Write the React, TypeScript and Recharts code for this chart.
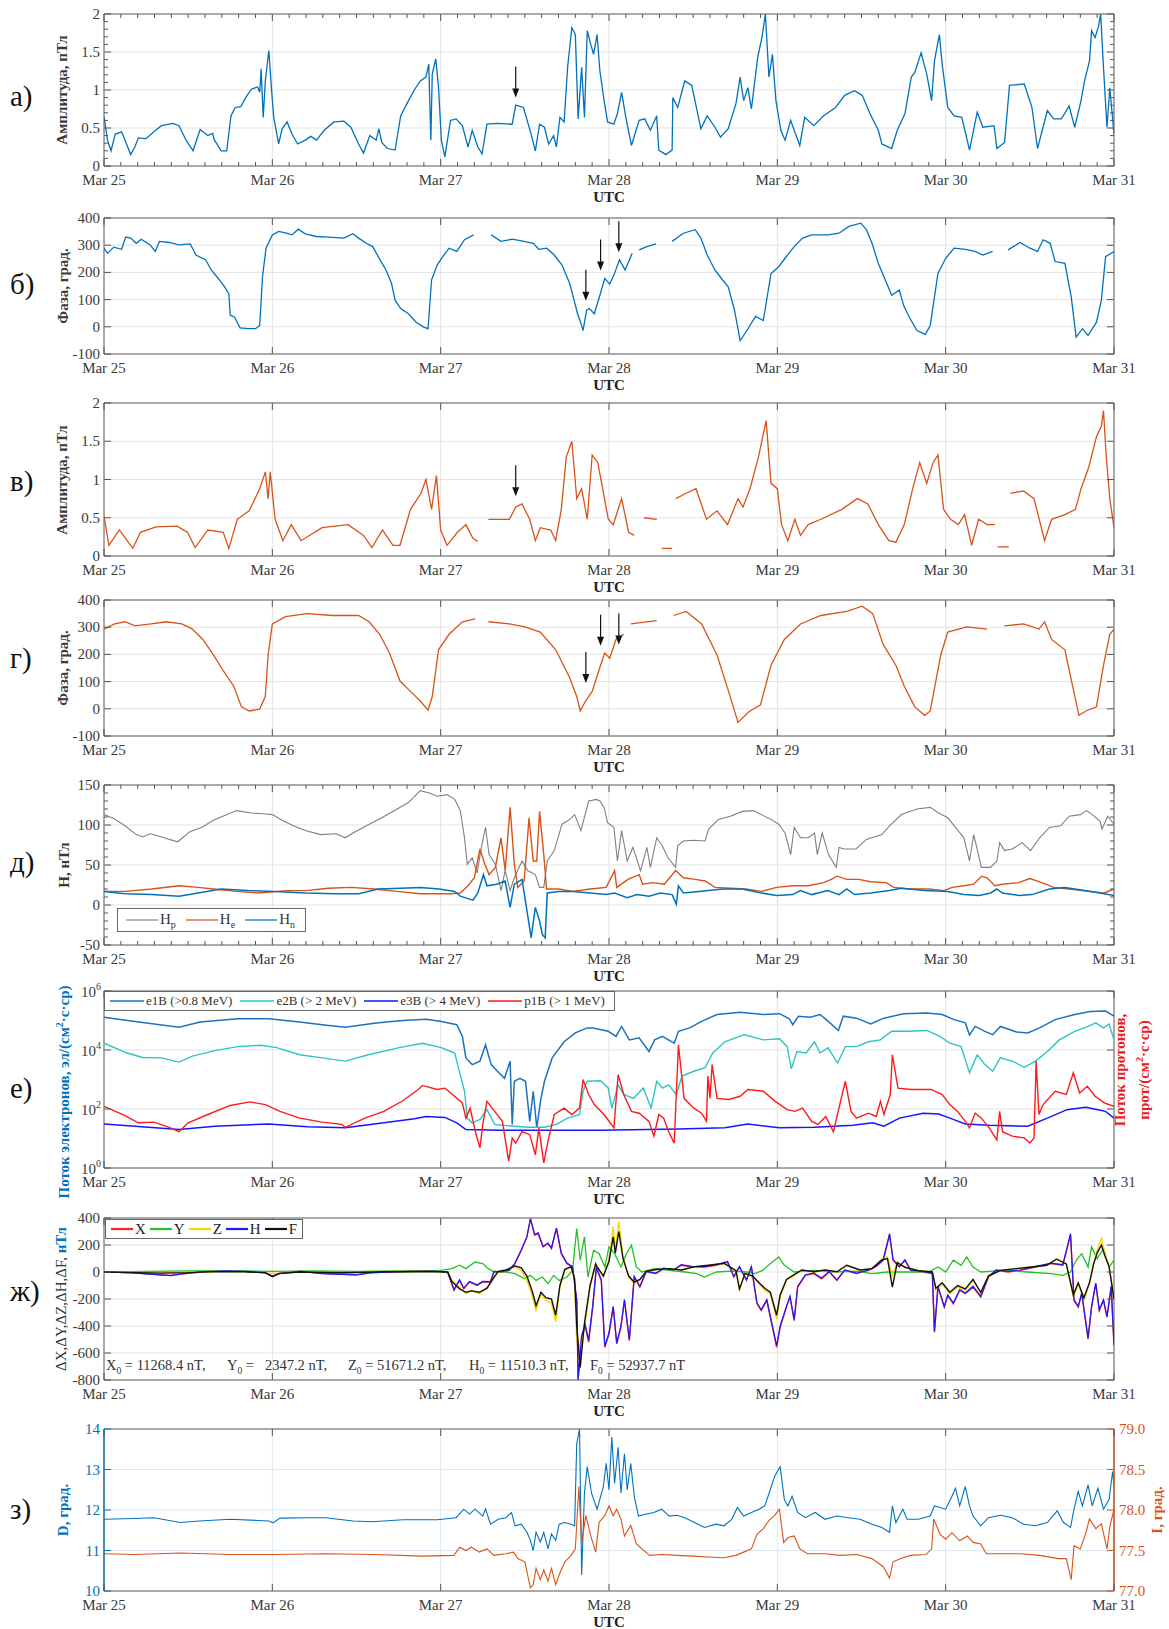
import React from "react";
import { LineChart, Line, XAxis, YAxis, ReferenceLine, ReferenceArea, ReferenceDot } from "recharts";

const FONT = '"Liberation Serif", "Times New Roman", serif';
const AX = "#555555";
const GRID = "#e3e3e3";
const TXT = "#3a3a3a";
const BLUE = "#0072BD";
const ORANGE = "#D95319";

const CHART_W = 1169;
const PLOT_L = 104;
const PLOT_W = 1010;
const Y_AXIS_W = 60;

// time axis, hours from Mar 25 00:00 UTC
const DAY_TICKS = [0, 24, 48, 72, 96, 120, 144];
const DAY_LABELS = ["Mar 25", "Mar 26", "Mar 27", "Mar 28", "Mar 29", "Mar 30", "Mar 31"];
const MINOR_X = Array.from({ length: 61 }, (_, k) => (k * 24) / 10);

type Pt = [number, number | null];

// а) amplitude, blue
const AMP_BLUE_PTS: Pt[] = [[0,0.65],[0.5,0.34],[1,0.2],[1.6,0.42],[2.5,0.45],[3,0.34],[3.8,0.15],[4.4,0.25],[4.9,0.37],[6,0.36],[7.1,0.45],[8.2,0.53],[9.8,0.56],[10.7,0.53],[11.7,0.34],[12.7,0.2],[13.7,0.48],[14.8,0.4],[15.5,0.43],[15.7,0.35],[16.7,0.2],[17.5,0.2],[18.1,0.66],[18.7,0.77],[19.5,0.78],[20.2,0.9],[21,1.01],[21.9,1.04],[22.2,0.97],[22.4,1.28],[22.7,0.64],[23,1.12],[23.5,1.52],[23.9,0.99],[24.2,0.64],[24.9,0.29],[25.4,0.49],[26.1,0.58],[26.8,0.42],[27.6,0.29],[28.7,0.34],[29.5,0.39],[30.3,0.34],[31.4,0.47],[32.8,0.58],[34.2,0.59],[35.2,0.51],[36.3,0.29],[37,0.17],[37.9,0.4],[38.8,0.34],[39.2,0.49],[39.6,0.31],[40.4,0.23],[41.5,0.21],[42.3,0.66],[43.3,0.84],[44.3,1.01],[45.1,1.12],[45.9,1.17],[46.3,1.34],[46.6,0.34],[46.8,1.21],[47.3,1.41],[47.7,1.03],[48.1,0.34],[48.6,0.12],[49.4,0.6],[50.2,0.62],[51.1,0.53],[51.9,0.25],[52.5,0.47],[53.3,0.25],[53.9,0.16],[54.6,0.55],[56,0.56],[58.2,0.55],[58.7,0.8],[59.8,0.77],[60.9,0.42],[61.5,0.2],[62.1,0.55],[62.8,0.51],[63.4,0.29],[64.1,0.4],[64.5,0.25],[65,0.64],[65.6,0.58],[66.1,1.3],[66.7,1.82],[67.2,1.73],[67.6,0.62],[68.1,1.3],[68.5,0.64],[68.9,1.78],[69.4,1.6],[69.8,1.47],[70.3,1.73],[70.7,1.25],[71.3,0.86],[71.8,0.58],[72.7,0.55],[73.2,0.69],[73.8,0.97],[74.4,0.64],[75.2,0.27],[76.3,0.6],[77.1,0.62],[77.9,0.47],[78.8,0.66],[79.1,0.21],[80.1,0.15],[81,0.21],[81.1,0.9],[81.8,0.77],[82.8,1.12],[83.8,1.06],[85.1,0.49],[86,0.66],[87.1,0.51],[87.9,0.38],[89,0.49],[90.1,0.82],[90.7,1.17],[91.2,0.86],[91.8,1.03],[92.3,0.75],[93.2,1.43],[93.8,1.69],[94.3,2.0],[94.8,1.17],[95.3,1.47],[95.8,0.86],[96.5,0.47],[97.1,0.34],[97.9,0.6],[98.4,0.47],[99.2,0.27],[99.9,0.64],[101.2,0.53],[102.6,0.66],[104.3,0.77],[105.6,0.93],[107,0.99],[108.1,0.93],[109.2,0.69],[110.4,0.47],[110.9,0.29],[112.3,0.23],[113.1,0.47],[114.2,0.69],[115.1,1.17],[115.6,1.23],[116.5,1.49],[117.3,1.21],[118,0.86],[118.4,1.38],[119.1,1.73],[119.5,1.34],[120.3,0.77],[121.2,0.66],[122.3,0.64],[123.4,0.21],[124.5,0.71],[125.3,0.51],[126.9,0.53],[127.3,0.23],[128.4,0.31],[129.1,1.06],[131.2,1.08],[132.3,0.77],[133.1,0.23],[134.5,0.73],[135.4,0.62],[136.5,0.62],[137.6,0.79],[138.4,0.51],[139.3,0.86],[139.8,1.12],[140.5,1.38],[140.8,1.78],[141.3,1.69],[141.8,1.84],[142.1,2.0],[142.5,1.3],[143,0.51],[143.4,1.03],[144,0.42]];

// б) phase, blue
const PHASE_BLUE_PTS: Pt[] = [[0,289],[0.5,270],[1.4,293],[2.5,285],[3.1,330],[3.8,326],[4.6,307],[5.3,322],[6.6,301],[7.3,277],[7.9,314],[9.3,310],[10.7,301],[12.3,305],[13.1,264],[14.5,246],[15.3,209],[16.4,174],[17.2,147],[17.8,122],[18,42],[18.6,36],[19.4,-4],[20.5,-7],[21.6,-7],[22.2,5],[22.6,184],[23.1,289],[24,338],[24.9,351],[26,344],[26.8,338],[27.7,359],[28.7,342],[30.3,332],[32,330],[34.2,326],[35.5,342],[36.3,326],[37.4,307],[38.3,295],[39.1,258],[40.2,209],[41,159],[41.5,98],[42.3,67],[43.4,48],[44.5,17],[45.6,-1],[46.2,-7],[46.7,172],[47.5,227],[48.3,258],[49.2,289],[50.3,277],[51.4,320],[52.7,338],[53.5,null],[55.2,338],[56.6,314],[58.2,322],[59.9,314],[61.2,307],[62,285],[63.1,289],[64.2,264],[65.3,227],[66.4,159],[67,100],[67.5,50],[67.95,17],[68.3,-14],[68.8,60],[69.2,67],[69.9,48],[70.7,116],[71.4,178],[72.1,157],[72.7,190],[73.5,246],[74.3,209],[75.3,270],[75.8,null],[76.3,283],[77.4,295],[78.7,305],[79.5,null],[81,314],[82.6,344],[84.3,357],[85.1,326],[86,264],[87.1,209],[88.2,172],[89,147],[89.9,60],[90.7,-51],[91.5,-20],[92.9,38],[94,23],[95.1,196],[96.2,221],[97.1,252],[98.4,295],[99.6,326],[100.9,338],[103.2,338],[104.8,344],[106.2,369],[107.9,381],[108.7,357],[109.5,307],[110.4,233],[111.2,184],[112.3,116],[113.4,135],[114,79],[114.8,36],[115.9,-14],[117.1,-28],[117.8,5],[118.9,196],[120,252],[121.2,289],[122.8,285],[124.2,277],[125.3,264],[126.7,277],[127.8,null],[128.9,283],[130.6,310],[132,289],[133.1,277],[133.9,320],[134.9,307],[135.6,240],[137,233],[137.9,110],[138.6,-38],[139.5,-7],[140.3,-32],[141.5,17],[142.2,98],[142.8,258],[144,277]];

// в) amplitude, orange
const AMP_ORANGE_PTS: Pt[] = [[0,0.52],[0.7,0.14],[2.2,0.34],[3.3,0.2],[4.1,0.1],[5.2,0.31],[7.4,0.38],[10.4,0.39],[11.9,0.31],[13,0.11],[14.8,0.34],[17,0.31],[17.8,0.1],[19,0.48],[20.7,0.59],[22.2,0.88],[23,1.1],[23.4,0.75],[23.7,1.1],[24.4,0.48],[25.5,0.2],[26.7,0.41],[28.1,0.2],[31.1,0.37],[34.8,0.41],[37,0.27],[38.2,0.11],[39.7,0.34],[41.2,0.14],[42.2,0.14],[43.7,0.61],[45.2,0.82],[45.9,1.0],[46.7,0.61],[47.4,1.05],[48,0.34],[48.9,0.14],[50.4,0.31],[51.6,0.41],[52.6,0.23],[53.3,0.19],[54,null],[54.8,0.48],[57.8,0.48],[58.7,0.64],[59.6,0.68],[60.7,0.48],[61.5,0.2],[62.2,0.37],[63.7,0.34],[64.4,0.2],[65.2,0.61],[65.9,1.29],[66.7,1.5],[67.4,0.75],[68.1,0.88],[68.9,0.48],[69.6,1.32],[70.4,1.22],[71.1,0.88],[71.9,0.48],[72.6,0.41],[73.8,0.75],[74.8,0.31],[75.6,0.27],[76.2,null],[77,0.5],[78.8,0.48],[79.2,null],[79.5,0.1],[81,0.1],[81.2,null],[81.5,0.75],[83,0.82],[84.4,0.88],[85.9,0.48],[87.4,0.59],[88.9,0.41],[90.4,0.75],[91.1,0.64],[92.1,0.88],[93.3,1.29],[94.4,1.77],[95.1,0.95],[96,0.88],[96.6,0.41],[97.5,0.2],[98.5,0.48],[99.3,0.27],[100.4,0.41],[102.2,0.48],[105.2,0.61],[107.4,0.75],[108.9,0.68],[110.4,0.41],[111.9,0.2],[112.9,0.18],[114.1,0.41],[115.3,0.88],[116.3,1.22],[117.3,0.95],[118.2,1.22],[118.9,1.32],[119.7,0.61],[120.7,0.48],[121.8,0.41],[122.7,0.54],[123.7,0.14],[124.7,0.48],[125.9,0.41],[127,0.41],[127.2,null],[127.4,0.12],[129,0.12],[129.1,null],[129.2,0.82],[131.1,0.85],[132.6,0.75],[134.1,0.2],[135.1,0.48],[137,0.54],[138.5,0.61],[139.3,0.88],[140.4,1.16],[141.5,1.56],[142.2,1.7],[142.5,1.9],[142.9,1.29],[143.4,0.75],[144,0.37]];

// г) phase, orange
const PHASE_ORANGE_PTS: Pt[] = [[0,293],[1.5,312],[3,320],[4.4,305],[6.7,312],[8.9,320],[11.1,312],[12.6,293],[14.1,255],[15.6,198],[17,140],[18.5,83],[19.6,7],[20.7,-8],[22.2,-1],[23,45],[23.4,198],[24,312],[25.9,339],[28.9,350],[32.6,343],[36.3,343],[37.8,320],[39.3,274],[40.7,205],[42.2,102],[43.7,64],[45.2,26],[46.2,-5],[46.8,45],[47.7,217],[49.2,274],[51.1,320],[52.9,331],[53.8,null],[54.8,320],[57.8,312],[60,301],[62.2,282],[64.4,217],[66.4,114],[67.4,45],[67.9,-8],[68.6,26],[69.6,64],[70.8,160],[71.4,205],[72.1,186],[73,255],[74.1,274],[74.5,null],[75.1,312],[78.8,324],[79.5,null],[81.2,343],[83,358],[85.2,312],[87.4,198],[88.9,76],[90.4,-50],[91.9,-12],[93.6,15],[95.1,160],[97,255],[99.3,312],[102.2,343],[105.9,358],[108.1,377],[109.6,350],[111.1,236],[112.9,160],[114.1,83],[115.6,7],[117,-24],[117.8,-8],[119.3,198],[120.3,282],[123,301],[125.9,293],[126.5,null],[128.4,305],[131.1,312],[133.3,293],[134.1,320],[135.1,255],[137,217],[138.1,83],[139,-24],[140,-8],[141.5,7],[142.5,160],[143.4,274],[144,293]];

// д) H components, nT
const HP_PTS: Pt[] = [[0,113],[1.4,108],[3,99],[4.6,88],[5.5,85],[6.6,89],[7.9,86],[9.3,82],[10.5,79],[11.2,84],[12.3,92],[13.9,97],[15.6,106],[17.8,114],[18.9,118],[21,115],[22.7,114],[24,113],[25.4,106],[27,99],[28.7,93],[30.9,88],[33.1,89],[34.4,84],[35.5,90],[37.4,99],[39.6,109],[41.8,120],[43.4,128],[45.1,143],[46.4,140],[47.5,136],[48.9,138],[50,132],[50.8,118],[51.4,84],[51.8,51],[52.5,59],[53.2,40],[53.8,72],[54.4,97],[54.9,63],[55.8,51],[56.6,18],[57.2,43],[57.9,18],[58.5,34],[59.6,55],[60.4,43],[61.5,38],[62.1,22],[62.7,22],[63.2,55],[64.2,68],[65.3,101],[66.4,107],[67.1,113],[68,93],[69.1,130],[70.2,132],[70.7,130],[71.3,122],[71.8,103],[72.7,97],[73.2,55],[73.8,93],[74.6,55],[75.4,72],[76.5,43],[77.4,72],[77.9,47],[78.8,84],[79.6,74],[80.4,59],[81.5,47],[81.8,74],[82.6,80],[84,81],[85.7,80],[86.2,95],[87.6,107],[89.3,111],[91,117],[92.6,118],[93.7,113],[95.1,107],[96.2,101],[97.1,90],[97.9,63],[98.4,97],[99.3,84],[100.4,84],[101.3,90],[101.7,63],[102.4,90],[103.3,63],[104.4,47],[104.8,72],[105.5,70],[107.2,70],[108.7,82],[110.9,88],[112,99],[113.7,113],[115.9,120],[117.8,122],[119,115],[120.3,109],[121.4,97],[122.6,84],[123.4,55],[124,88],[125.1,47],[126.4,47],[127.3,55],[127.7,78],[128.4,68],[129.5,70],[130.9,78],[132.1,68],[133.4,84],[134.8,97],[136.4,99],[137.6,111],[139.2,113],[140.1,118],[140.9,113],[142,105],[142.3,95],[143.1,111],[144,101]];
const HE_PTS: Pt[] = [[0,17],[3,17],[6.8,20],[10.7,24],[13.4,22],[15.6,20],[18.9,17],[22.1,15],[26,18],[28.7,18],[32,21],[35.2,22],[38.5,20],[41.8,17],[45.1,14],[49.5,14],[50.8,15],[51.9,24],[52.8,34],[53.6,70],[54.3,51],[54.9,38],[55.8,47],[56.6,84],[57.2,43],[57.9,122],[58.5,51],[59,22],[59.9,30],[60.6,109],[61.2,55],[61.7,55],[62.1,117],[62.7,63],[63.1,20],[64.8,20],[66.9,17],[69.3,20],[71.6,22],[72.8,43],[73.1,22],[74.7,32],[76.3,38],[76.8,26],[78.2,28],[79.9,26],[81.5,43],[82.6,34],[84.3,32],[85.7,30],[87.1,22],[89.3,21],[91.5,20],[93.7,17],[95.9,22],[98.2,24],[100.4,24],[102.6,28],[103.7,32],[104.5,36],[105.9,32],[107.6,32],[109.3,29],[111.5,28],[112.6,22],[114.8,20],[117.6,20],[119.8,18],[120.9,22],[122.6,24],[124,26],[125.1,36],[125.9,34],[127,24],[128.1,26],[130.4,28],[132,33],[133.7,28],[135.4,22],[137.6,20],[140.4,17],[142.6,15],[144,20]];
const HN_PTS: Pt[] = [[0,17],[3,14],[6.8,13],[10.7,11],[13.4,15],[16.7,20],[20.5,18],[24.3,17],[28.7,15],[33.1,14],[36.3,14],[39.1,20],[42.3,21],[45.1,22],[47.8,20],[50,17],[50.8,11],[52.6,6],[53.3,15],[54.1,38],[54.6,24],[56,26],[57.2,30],[57.9,-3],[58.5,26],[59.6,32],[60.6,-24],[60.9,-41],[61.5,-3],[62.1,-20],[62.5,-37],[62.9,-41],[63.2,15],[64.8,17],[66.9,17],[69.3,15],[71.6,13],[72.8,15],[74.6,9],[76,13],[77.7,11],[79.3,15],[81,13],[81.6,1],[81.9,24],[82.6,15],[84.8,17],[88.2,20],[91,20],[93.7,15],[95.9,12],[98.2,13],[99.3,18],[100.9,13],[103.2,18],[104.8,13],[105.9,20],[107,13],[109.3,15],[112,18],[113.7,21],[117,18],[120.3,17],[122.6,13],[124.8,12],[126.4,15],[127.3,20],[128.1,15],[130.4,12],[132.3,13],[134.8,20],[137,22],[139.8,18],[142,15],[144,12]];

// е) particle fluxes
const E1B_PTS: Pt[] = [[0,1.3e5],[4.4,9.3e4],[10.7,5.9e4],[13.7,8.9e4],[19.1,1.15e5],[23.5,1.15e5],[27.9,8.9e4],[31.7,6.9e4],[34.4,5.9e4],[38.8,8.3e4],[42.6,1e5],[45.9,1.1e5],[48.1,9.3e4],[50.3,7.2e4],[51.1,2.9e4],[51.6,5.4e3],[52.5,3.2e3],[53.6,4.2e3],[54.4,1.5e4],[55.2,3.2e3],[56.3,1.7e3],[57.1,1.1e3],[57.9,4.2e3],[58.2,30],[58.5,870],[59.3,1.1e3],[60.1,870],[60.7,38],[61.2,400],[61.7,23],[62.3,230],[62.8,870],[63.9,5.4e3],[65.6,1.9e4],[67.2,3.8e4],[68.9,5.6e4],[69.7,5.6e4],[71.9,4.3e4],[73,2.9e4],[73.8,6.3e4],[74.9,2.2e4],[76.3,2.6e4],[77.7,8.9e3],[78.5,2.2e4],[79.6,2.9e4],[81.3,1.7e4],[81.9,4.3e4],[83.5,5.6e4],[85.2,9.3e4],[87.4,1.6e5],[90.7,1.9e5],[94,1.6e5],[96.3,1.7e5],[97.7,1.15e5],[98.2,7.2e4],[99,1.4e5],[100.7,1.3e5],[102.1,1.6e5],[103.5,8.3e4],[104.7,4.6e4],[105.4,1.4e5],[107.3,1.2e5],[109.3,7.6e4],[111.2,1.2e5],[114,1.7e5],[117.3,1.8e5],[119.5,1.6e5],[121.2,1.07e5],[122.8,8.3e4],[123.4,3.2e4],[124.2,6.3e4],[125.6,4.3e4],[126.7,3.3e4],[127.8,6.3e4],[130.1,4.1e4],[131.7,3.8e4],[133.4,5.6e4],[135.6,1.07e5],[138.4,1.6e5],[140.6,2e5],[142.8,2.1e5],[144,1.4e5]];
const E2B_PTS: Pt[] = [[0,1.7e4],[3.3,7.9e3],[5.5,5.6e3],[8.2,5.4e3],[10.7,3.9e3],[12.6,6.2e3],[15.8,9.5e3],[19.1,1.3e4],[22.4,1.45e4],[24.6,1.2e4],[27.9,6.9e3],[31.1,5.4e3],[34.4,4.2e3],[37.7,6.9e3],[42.1,1.2e4],[45.4,1.7e4],[48.1,1.2e4],[50,7.9e3],[50.8,1.4e3],[51.4,400],[51.8,49],[52.5,34],[53.6,44],[54.6,95],[55.7,30],[56.8,28],[58.5,26],[60.7,24],[62.8,24],[64.5,30],[66.1,49],[67.8,65],[68.3,400],[68.9,870],[70.8,910],[71.9,510],[72.4,107],[73.3,660],[74.1,310],[75.5,230],[76.9,510],[78,107],[78.8,870],[79.6,510],[80.5,660],[81.6,310],[82.4,1.3e3],[84.1,1.9e3],[85.7,2.5e3],[86.8,7.9e3],[88.5,1.9e4],[91.3,3.3e4],[94,2.2e4],[96.3,2.4e4],[97.4,1.3e4],[98,2.3e3],[98.8,8.9e3],[100.1,7.9e3],[101.3,1.9e4],[102.1,7.9e3],[103.2,1.2e4],[104.6,3.6e3],[105.7,1.3e4],[107.3,1.3e4],[109,1.9e4],[110.7,2.2e4],[112.3,4.3e4],[114.5,4.3e4],[117.3,4.6e4],[119.2,2.9e4],[120.6,1.7e4],[122.2,1.3e4],[123.4,1.7e3],[124.5,6.9e3],[125.6,3.2e3],[126.7,1.9e3],[127.8,5.4e3],[129.5,4.2e3],[131.2,2.6e3],[132.8,4.2e3],[134.5,8.9e3],[136.2,2.2e4],[138.4,4.3e4],[140.3,6.3e4],[141.4,8.3e4],[142.5,5.6e4],[143.3,7.6e4],[144,2.2e4]];
const E3B_PTS: Pt[] = [[0,31],[4.4,26],[10.7,20],[15.8,26],[23.5,31],[29,25],[34.4,23],[39.9,34],[44.3,47],[45.9,56],[48.6,52],[50.3,34],[51.6,20],[56.3,19],[60,19],[65,19],[70.8,19],[81.9,21],[88.5,23],[91.8,31],[96.3,23],[101.3,24],[106.8,28],[109.6,34],[111.2,26],[113.4,49],[116.8,72],[119,68],[120.6,49],[122.8,31],[126.2,28],[131.7,26],[134.5,49],[137.3,95],[140,115],[141.7,95],[142.8,83],[144,49]];
const P1B_PTS: Pt[] = [[0,123],[2.7,65],[4.9,34],[7.1,36],[9.3,24],[10.7,17],[12,34],[14.8,65],[18,132],[20.8,174],[23,141],[25.1,83],[27.9,49],[31.1,36],[33.9,30],[34.4,24],[37.2,49],[39.9,83],[42.6,190],[44.8,460],[45.4,630],[47.5,460],[48.6,510],[49.7,310],[51.1,158],[51.6,49],[52.2,107],[53,15],[53.6,4.8],[54,30],[54.6,182],[55.7,83],[56.8,38],[57.7,1.7],[58.2,10.5],[58.7,7],[59.6,17],[60.7,13.5],[61.5,2.8],[62,23],[62.7,1.5],[63.4,10.5],[64.2,65],[65.6,107],[66.7,65],[67.8,107],[68.3,1000],[69.1,310],[69.9,141],[71.3,65],[72.7,23],[73.3,1450],[74.1,310],[75.2,83],[76.3,72],[77.7,38],[78.4,12],[79.1,65],[79.8,49],[80.5,17],[81.3,7],[81.9,1.5e4],[82.7,230],[84.1,107],[85.2,72],[85.9,38],[86.1,1300],[86.4,230],[86.7,3200],[87.4,230],[89.1,210],[90.7,270],[91.8,460],[94,400],[95.7,182],[97.4,95],[98.5,83],[99.6,107],[100.9,38],[101.8,30],[102.9,56],[104,17],[104.9,141],[105.7,870],[106.5,83],[107.3,49],[109,72],[110.1,56],[110.7,182],[111.2,65],[112.1,310],[112.4,6900],[113.2,510],[115.1,460],[117.9,460],[119.5,310],[120.6,141],[121.7,83],[122.8,38],[123.4,23],[124.2,72],[125.1,49],[126.2,23],[127.3,9],[127.7,83],[128.1,17],[129.5,12],[131.2,10.5],[132,7],[132.6,10.5],[132.9,4200],[133.3,65],[133.9,141],[135.6,400],[137.2,310],[138.2,1700],[139.1,350],[140.2,590],[141.3,270],[142.7,158],[144,123]];

// ж) field variations, nT
const DX_PTS: Pt[] = [[0,0],[4,-5],[8,-20],[9.5,-25],[11,-15],[14,0],[17,8],[20,5],[23,-5],[24,-30],[25,-10],[28,5],[31,-10],[33,-15],[36,-20],[38,-5],[41,0],[44,5],[47,8],[49,0],[49.9,-136],[50.7,-62],[51.3,-124],[52.1,-74],[53.2,-99],[54,-74],[55.1,-74],[55.6,0],[56.7,0],[57.8,12],[58.6,62],[59.5,161],[60.3,260],[60.8,397],[61.4,273],[61.9,285],[62.6,186],[63.3,211],[63.8,174],[64.5,323],[65.2,136],[66,62],[66.8,37],[67.4,-211],[67.6,-790],[68.1,-480],[68.6,-400],[69.1,-520],[69.7,-250],[70.2,30],[70.9,-62],[71.4,-558],[72,-459],[72.6,-260],[73.1,-533],[73.7,-409],[74.2,-211],[74.9,-508],[75.6,-37],[76.4,-112],[77.3,0],[78.7,-12],[79.8,25],[81.2,12],[82.3,50],[83.9,37],[85.6,37],[87.3,50],[88.9,74],[89.8,-37],[90.6,37],[91.6,-62],[92.3,37],[93.1,-236],[93.7,-285],[94.5,-211],[95.3,-409],[95.9,-558],[96.4,-409],[97.3,-260],[97.8,-186],[98.4,-360],[98.9,-112],[100,-25],[101.2,-12],[102.3,-50],[103.4,0],[104.5,-62],[105.6,12],[107.3,-12],[109,12],[110,37],[111.1,87],[112,273],[112.5,87],[113.4,37],[114.2,87],[115,12],[116.7,0],[118.1,-12],[118.4,-447],[118.9,-112],[119.8,-260],[120.3,-174],[121.1,-236],[122,-136],[122.8,-161],[123.9,-112],[125,-186],[126.1,-37],[127.2,12],[128.9,0],[130.6,12],[132.8,37],[135,62],[136.7,50],[137.8,273],[138.3,-211],[138.9,-260],[139.4,-161],[140.3,-496],[140.8,-260],[141.4,-87],[141.9,-285],[142.5,-211],[143,-335],[143.6,-112],[144,-546]];
const DY_PTS: Pt[] = [[0,0],[6,5],[12,8],[18,10],[24,5],[30,8],[36,5],[42,8],[48,12],[49.6,25],[50.7,50],[51.6,25],[52.9,74],[54,62],[54.8,25],[55.6,0],[57.3,0],[58.6,-12],[60,-50],[60.8,-25],[61.6,-62],[62.5,-37],[63.3,-87],[64.1,-25],[64.9,-62],[66,-37],[66.8,12],[67.4,322],[67.9,87],[68.5,260],[69,-37],[69.8,161],[70.6,136],[71.4,37],[72,186],[72.8,136],[73.7,37],[74.5,136],[75.2,198],[75.9,37],[76.7,0],[78.4,25],[80.6,12],[82.8,0],[84.5,-12],[85.6,-37],[87.3,0],[89.5,7],[91.7,0],[92.8,-12],[93.9,12],[95,62],[96.2,112],[97,50],[98.4,0],[101.2,12],[103.9,0],[107.3,7],[109.5,-12],[111.7,0],[113.9,0],[116.1,0],[117.8,7],[118.9,37],[120,0],[121.1,87],[122.2,50],[123,112],[123.9,37],[125,0],[126.7,7],[128.9,12],[131.7,0],[135,-12],[136.7,-25],[137.8,0],[138.6,87],[139.4,136],[140.3,37],[140.8,186],[141.6,99],[142.5,174],[143.3,37],[144,87]];
const DZ_PTS: Pt[] = [[0,0],[8,-5],[12,-8],[16,5],[20,3],[24,-10],[28,0],[34,-5],[40,3],[46,5],[49,0],[49.6,-62],[50.7,-112],[51.6,-161],[52.4,-136],[53.5,-161],[54.6,-124],[55.4,-62],[56.2,0],[57.3,12],[58.6,37],[59.5,12],[60.3,-62],[61.1,-186],[61.6,-285],[62.3,-161],[63,-211],[63.8,-230],[64.4,-370],[65,-112],[65.7,12],[66.6,37],[67.1,-62],[67.4,-508],[67.9,-560],[68.5,-409],[69.3,-112],[70.1,62],[70.3,37],[71.2,-37],[72,87],[72.6,335],[72.9,161],[73.4,372],[74,112],[74.8,-37],[75.6,-87],[76.4,-62],[77.3,0],[78.9,17],[80.6,25],[82.3,12],[84.2,37],[86.2,50],[88.4,62],[90.1,12],[90.6,-136],[91.4,-12],[92.5,-37],[93.4,-87],[94.2,-136],[95,-161],[95.9,-347],[96.4,-186],[97.3,-62],[98.4,-25],[99.5,12],[101.2,0],[102.8,12],[104.5,0],[105.9,50],[107.8,12],[109.5,25],[110.9,99],[111.7,112],[112.4,-30],[113.1,74],[114.2,37],[116.1,12],[118.1,0],[118.6,-136],[119.5,-87],[120.6,-161],[121.7,-112],[122.8,-136],[123.9,-62],[125,-161],[126.1,-37],[127.8,12],[130,25],[132.2,37],[134.4,50],[135.8,99],[137.2,62],[138.2,-186],[138.9,-87],[139.7,-211],[140.5,-87],[141.1,62],[141.6,161],[142.2,250],[142.7,136],[143.3,37],[144,-186]];
const DH_PTS: Pt[] = [[0,0],[4,-6],[8,-22],[9.5,-27],[11,-14],[14,2],[17,9],[20,4],[23,-6],[24,-32],[25,-12],[28,4],[31,-12],[33,-16],[36,-22],[38,-6],[41,1],[44,4],[47,7],[49,-2],[49.9,-130],[50.7,-58],[51.3,-120],[52.1,-70],[53.2,-95],[54,-70],[55.1,-72],[55.6,4],[56.7,2],[57.8,15],[58.6,66],[59.5,165],[60.3,262],[60.8,390],[61.4,280],[61.9,290],[62.6,190],[63.3,215],[63.8,178],[64.5,325],[65.2,140],[66,66],[66.8,40],[67.4,-205],[67.6,-800],[68.1,-470],[68.6,-390],[69.1,-505],[69.7,-240],[70.2,35],[70.9,-58],[71.4,-550],[72,-450],[72.6,-255],[73.1,-525],[73.7,-400],[74.2,-205],[74.9,-500],[75.6,-33],[76.4,-105],[77.3,4],[78.7,-8],[79.8,28],[81.2,15],[82.3,54],[83.9,40],[85.6,40],[87.3,54],[88.9,78],[89.8,-33],[90.6,40],[91.6,-58],[92.3,40],[93.1,-230],[93.7,-280],[94.5,-205],[95.3,-400],[95.9,-545],[96.4,-400],[97.3,-255],[97.8,-180],[98.4,-350],[98.9,-105],[100,-20],[101.2,-8],[102.3,-45],[103.4,4],[104.5,-58],[105.6,15],[107.3,-8],[109,15],[110,40],[111.1,92],[112,285],[112.5,92],[113.4,40],[114.2,90],[115,15],[116.7,4],[118.1,-8],[118.4,-440],[118.9,-105],[119.8,-255],[120.3,-170],[121.1,-230],[122,-130],[122.8,-155],[123.9,-105],[125,-180],[126.1,-33],[127.2,15],[128.9,4],[130.6,15],[132.8,40],[135,66],[136.7,54],[137.8,285],[138.3,-205],[138.9,-255],[139.4,-155],[140.3,-490],[140.8,-255],[141.4,-82],[141.9,-280],[142.5,-205],[143,-330],[143.6,-105],[144,-540]];
const DF_PTS: Pt[] = [[0,0],[8,-8],[12,-5],[16,3],[20,2],[23,-5],[24,-35],[25,-10],[28,0],[34,-6],[40,2],[46,4],[49,0],[49.6,-70],[50.7,-125],[51.6,-150],[52.4,-140],[53.5,-150],[54.6,-120],[55.4,-55],[56.2,5],[57.3,15],[58.6,45],[59.5,30],[60.3,-30],[61.1,-150],[61.6,-250],[62.3,-150],[63,-190],[63.8,-200],[64.4,-320],[65,-100],[65.7,20],[66.6,40],[67.1,-50],[67.4,-400],[67.9,-707],[68.5,-380],[69.3,-100],[70.1,60],[70.3,40],[71.2,-30],[72,80],[72.6,260],[72.9,140],[73.4,300],[74,100],[74.8,-30],[75.6,-75],[76.4,-55],[77.3,5],[78.9,20],[80.6,25],[82.3,15],[84.2,40],[86.2,50],[88.4,65],[90.1,10],[90.6,-125],[91.4,-10],[92.5,-30],[93.4,-80],[94.2,-120],[95,-150],[95.9,-320],[96.4,-170],[97.3,-55],[98.4,-20],[99.5,15],[101.2,2],[102.8,15],[104.5,2],[105.9,50],[107.8,15],[109.5,25],[110.9,90],[111.7,100],[112.4,-112],[113.1,70],[114.2,35],[116.1,10],[118.1,0],[118.6,-120],[119.5,-80],[120.6,-150],[121.7,-100],[122.8,-125],[123.9,-55],[125,-150],[126.1,-30],[127.8,12],[130,25],[132.2,37],[134.4,50],[135.8,95],[137.2,60],[138.2,-170],[138.9,-80],[139.7,-190],[140.5,-80],[141.1,60],[141.6,140],[142.2,200],[142.7,120],[143.3,40],[144,-200]];

// з) declination and inclination, degrees
const DECL_PTS: Pt[] = [[0,11.77],[4.4,11.79],[7.1,11.81],[10.9,11.69],[13.6,11.73],[18,11.77],[23.5,11.73],[24.1,11.68],[25.1,11.8],[28.9,11.81],[31.6,11.81],[35.5,11.73],[38.2,11.71],[42.6,11.76],[47.5,11.76],[50.2,11.81],[51.3,12.02],[52.1,11.9],[52.9,12.02],[54,11.85],[54.4,12.03],[55.1,11.65],[56.2,11.77],[57.3,11.81],[58.1,11.94],[58.6,11.61],[59.5,11.65],[60.3,11.45],[60.8,11.25],[61.2,11.0],[61.6,11.45],[62.2,11.21],[62.7,11.45],[63.3,11.04],[63.8,11.41],[64.4,11.25],[64.9,11.65],[65.7,11.69],[66.6,11.65],[67.1,11.61],[67.4,13.64],[67.8,14.0],[68.1,10.4],[68.5,12.42],[68.9,13.07],[69.5,12.42],[70.3,12.02],[71.2,12.58],[71.6,13.15],[72,12.5],[72.4,13.8],[72.8,12.66],[73.3,13.55],[73.7,12.42],[74.2,13.39],[74.6,12.5],[75.1,13.15],[75.6,12.34],[76.2,11.85],[77,11.89],[78.4,11.94],[79.5,12.02],[80.6,11.85],[81.7,11.87],[82.8,11.81],[84.2,11.69],[85.6,11.57],[87.3,11.65],[88.4,11.61],[89.5,11.77],[90.3,12.06],[91.2,11.85],[92.3,11.94],[93.4,12.02],[94.2,12.1],[95,12.5],[95.6,12.83],[96.4,13.07],[97,12.26],[97.5,12.1],[98.1,12.34],[98.9,11.94],[100,11.81],[101.4,11.94],[102.8,11.77],[104.5,11.85],[106.1,11.81],[107.8,11.77],[109.5,11.65],[110.9,11.57],[112,11.45],[112.4,12.1],[112.9,11.69],[113.9,12.02],[114.5,11.77],[116.1,11.77],[117.8,11.85],[118.4,12.1],[119.2,12.06],[120,12.02],[120.9,12.34],[121.4,12.54],[122,12.1],[122.8,12.58],[123.4,12.1],[123.9,11.85],[125,11.61],[126.1,11.81],[127.8,11.87],[129.5,11.81],[131.1,11.65],[132.8,11.61],[134.5,11.69],[135.9,11.98],[136.8,11.69],[137.8,11.57],[138.3,12.02],[138.9,12.46],[139.5,12.1],[140.3,12.62],[140.9,12.1],[141.7,12.54],[142.5,12.02],[143.3,12.26],[143.8,12.95],[144,12.58]];
const INCL_PTS: Pt[] = [[0,77.46],[4.4,77.45],[10.9,77.47],[18,77.45],[24.5,77.45],[31.6,77.46],[38.7,77.45],[45.3,77.43],[49.9,77.44],[50.7,77.54],[51.6,77.5],[52.4,77.54],[53.5,77.48],[54.6,77.52],[55.6,77.44],[57.3,77.46],[58.4,77.48],[59,77.4],[60,77.36],[60.8,77.04],[61.2,77.08],[61.6,77.28],[62.2,77.14],[62.7,77.26],[63.3,77.12],[63.8,77.28],[64.4,77.08],[64.9,77.2],[65.7,77.36],[66.6,77.44],[67.2,77.52],[67.7,78.29],[68.1,77.6],[68.7,77.93],[69.4,77.68],[70.1,77.48],[70.6,77.85],[71.4,77.93],[72,78.05],[72.6,77.93],[73.1,78.01],[73.7,77.89],[74.2,77.68],[75.1,77.81],[75.9,77.58],[76.7,77.52],[77.8,77.44],[79.5,77.45],[81.7,77.44],[83.9,77.43],[86.2,77.42],[88.4,77.41],[90.1,77.44],[91.2,77.48],[92.3,77.52],[93.1,77.7],[94,77.77],[94.8,77.87],[95.6,77.93],[96.3,78.01],[96.9,77.6],[97.5,77.66],[98.4,77.68],[99.2,77.52],[100.3,77.46],[102.8,77.46],[105,77.44],[107.3,77.45],[109.5,77.4],[111.1,77.3],[112,77.16],[112.5,77.36],[113.6,77.4],[115,77.44],[117.2,77.45],[118,77.52],[118.3,77.89],[119.2,77.7],[120,77.64],[120.9,77.72],[122,77.62],[123.1,77.68],[123.9,77.6],[125,77.58],[125.8,77.46],[127.8,77.46],[130.6,77.46],[133.4,77.44],[136.1,77.4],[137.2,77.4],[137.9,77.14],[138.3,77.56],[139.2,77.52],[140,77.72],[140.5,77.89],[141.4,77.77],[142.2,77.83],[143,77.52],[143.4,77.79],[144,78.01]];

// arrows: [hour, value at the arrow tip]
const ARROWS_A: [number, number][] = [[58.7, 0.9]];
const ARROWS_B: [number, number][] = [[68.7, 96], [70.8, 207], [73.4, 274]];
const ARROWS_C: [number, number][] = [[58.7, 0.78]];
const ARROWS_D: [number, number][] = [[68.7, 95], [70.8, 232], [73.4, 236]];

const toRows = (pts: Pt[]) => pts.map(([t, v]) => ({ t, v }));

type Series = { name: string; pts: Pt[]; color: string; width?: number; axis?: string };
type RightAxis = { domain: [number, number]; majors: number[]; color: string; fmt: (v: number) => string };
type PanelProps = {
  top: number;
  h: number;
  domain: [number, number];
  majors: number[];
  minors?: number[];
  fmt?: (v: number) => string;
  log?: boolean;
  xMinor?: boolean;
  series: Series[];
  arrows?: [number, number][];
  leftColor?: string;
  gridColor?: string;
  right?: RightAxis;
};

const near = (list: number[], v: number) => list.some((m) => Math.abs(m - v) < 1e-9);

function ArrowMark(p: any) {
  const { cx, cy } = p;
  return (
    <g>
      <line x1={cx} x2={cx} y1={cy - 31} y2={cy - 6} stroke="#111" strokeWidth={1.2} />
      <polygon points={`${cx - 3.5},${cy - 9} ${cx + 3.5},${cy - 9} ${cx},${cy}`} fill="#111" />
    </g>
  );
}

function Panel(P: PanelProps) {
  const mt = 10;
  const xh = 45;
  const rightW = P.right ? 50 : 0;
  const xTicks = P.xMinor ? MINOR_X : DAY_TICKS;
  const yTicks = P.minors ?? P.majors;
  const fmt = P.fmt ?? ((v: number) => String(v));
  const leftCol = P.leftColor ?? TXT;
  const grid = P.gridColor ?? GRID;

  const xTick = (p: any) => {
    const v = p.payload.value as number;
    const i = DAY_TICKS.findIndex((d) => Math.abs(d - v) < 1e-9);
    const len = i >= 0 ? 7 : 4;
    return (
      <g>
        <line x1={p.x} x2={p.x} y1={p.y} y2={p.y - len} stroke={AX} />
        <line x1={p.x} x2={p.x} y1={p.y - P.h} y2={p.y - P.h + len} stroke={AX} />
        {i >= 0 && (
          <text x={p.x} y={p.y + 19} textAnchor="middle" fontSize={15} fontFamily={FONT} fill={TXT}>
            {DAY_LABELS[i]}
          </text>
        )}
      </g>
    );
  };

  const yTick = (p: any) => {
    const v = p.payload.value as number;
    const major = near(P.majors, v);
    const len = major ? 7 : 4;
    let label: React.ReactNode = null;
    if (major) {
      if (P.log) {
        const e = Math.round(Math.log10(v));
        label = (
          <text x={p.x - 3} y={p.y + 6} textAnchor="end" fontSize={15} fontFamily={FONT} fill={TXT}>
            <tspan>10</tspan>
            <tspan dy={-7} fontSize={10}>{e}</tspan>
          </text>
        );
      } else {
        label = (
          <text x={p.x - 4} y={p.y + 5} textAnchor="end" fontSize={15} fontFamily={FONT} fill={leftCol}>
            {fmt(v)}
          </text>
        );
      }
    }
    return (
      <g>
        <line x1={p.x} x2={p.x + len} y1={p.y} y2={p.y} stroke={P.leftColor ?? AX} />
        {!P.right && <line x1={p.x + PLOT_W} x2={p.x + PLOT_W - len} y1={p.y} y2={p.y} stroke={AX} />}
        {label}
      </g>
    );
  };

  const rTick = (p: any) => {
    const R = P.right as RightAxis;
    const v = p.payload.value as number;
    return (
      <g>
        <line x1={p.x} x2={p.x - 7} y1={p.y} y2={p.y} stroke={R.color} />
        <text x={p.x + 5} y={p.y + 5} textAnchor="start" fontSize={15} fontFamily={FONT} fill={R.color}>
          {R.fmt(v)}
        </text>
      </g>
    );
  };

  const gridY = P.majors.filter((m) => m > P.domain[0] && m < P.domain[1]);

  return (
    <div style={{ position: "absolute", left: 0, top: P.top - mt }}>
      <LineChart
        width={CHART_W}
        height={mt + P.h + xh}
        margin={{ top: mt, right: CHART_W - PLOT_L - PLOT_W - rightW, bottom: 0, left: PLOT_L - Y_AXIS_W }}
      >
        <XAxis
          dataKey="t"
          type="number"
          domain={[0, 144]}
          ticks={xTicks}
          interval={0}
          allowDataOverflow
          height={xh}
          tickSize={0}
          tickMargin={0}
          tickLine={false}
          axisLine={false}
          tick={xTick}
        />
        <YAxis
          yAxisId="l"
          type="number"
          scale={P.log ? "log" : "auto"}
          domain={P.domain}
          ticks={yTicks}
          interval={0}
          allowDataOverflow
          width={Y_AXIS_W}
          tickSize={0}
          tickMargin={0}
          tickLine={false}
          axisLine={false}
          tick={yTick}
        />
        {P.right && (
          <YAxis
            yAxisId="r"
            orientation="right"
            type="number"
            domain={P.right.domain}
            ticks={P.right.majors}
            interval={0}
            allowDataOverflow
            width={rightW}
            tickSize={0}
            tickMargin={0}
            tickLine={false}
            axisLine={false}
            tick={rTick}
          />
        )}
        {DAY_TICKS.slice(1, -1).map((d) => (
          <ReferenceLine key={`gx${d}`} x={d} yAxisId="l" stroke={grid} strokeWidth={1} />
        ))}
        {gridY.map((m) => (
          <ReferenceLine key={`gy${m}`} y={m} yAxisId="l" stroke={grid} strokeWidth={1} />
        ))}
        {P.series.map((s) => (
          <Line
            key={s.name}
            yAxisId={s.axis ?? "l"}
            data={toRows(s.pts)}
            dataKey="v"
            type="linear"
            stroke={s.color}
            strokeWidth={s.width ?? 1.3}
            dot={false}
            activeDot={false}
            connectNulls={false}
            isAnimationActive={false}
          />
        ))}
        <ReferenceArea
          x1={0}
          x2={144}
          y1={P.domain[0]}
          y2={P.domain[1]}
          yAxisId="l"
          fill="none"
          stroke={AX}
          strokeWidth={1}
          ifOverflow="visible"
        />
        {P.right && <ReferenceLine x={0} yAxisId="l" stroke={P.leftColor} strokeWidth={1.2} />}
        {P.right && <ReferenceLine x={144} yAxisId="l" stroke={P.right.color} strokeWidth={1.2} />}
        {(P.arrows ?? []).map(([t, v], i) => (
          <ReferenceDot key={`a${i}`} x={t} y={v} yAxisId="l" r={0} ifOverflow="visible" shape={ArrowMark} />
        ))}
      </LineChart>
    </div>
  );
}

const abs = (extra: React.CSSProperties): React.CSSProperties => ({
  position: "absolute",
  fontFamily: FONT,
  whiteSpace: "nowrap",
  ...extra,
});

function VTitle({ x, y, color = TXT, bold = true, size = 15, children }: any) {
  return (
    <div
      style={abs({
        left: x,
        top: y,
        transform: "translate(-50%, -50%) rotate(-90deg)",
        fontSize: size,
        fontWeight: bold ? 700 : 400,
        color,
        lineHeight: "19px",
        textAlign: "center",
      })}
    >
      {children}
    </div>
  );
}

function Sample({ color, w = 34, sw = 1.3 }: { color: string; w?: number; sw?: number }) {
  return (
    <svg width={w} height={10} style={{ verticalAlign: "middle" }}>
      <line x1={2} x2={w - 2} y1={5} y2={5} stroke={color} strokeWidth={sw} />
    </svg>
  );
}

const PANEL_LETTERS: [string, number][] = [
  ["а)", 96], ["б)", 284], ["в)", 481], ["г)", 658], ["д)", 862], ["е)", 1088], ["ж)", 1291], ["з)", 1509],
];
const UTC_Y = [197, 385, 587, 767, 976, 1199, 1411, 1622];

const H_LEGEND = [
  { sub: "p", color: "#808080" },
  { sub: "e", color: ORANGE },
  { sub: "n", color: BLUE },
];
const FLUX_LEGEND = [
  { label: "e1B (>0.8 MeV)", color: "#1b72bf" },
  { label: "e2B (> 2 MeV)", color: "#2ec4c4" },
  { label: "e3B (> 4 MeV)", color: "#1515ff" },
  { label: "p1B (> 1 MeV)", color: "#ff1a1a" },
];
const DELTA_LEGEND = [
  { label: "X", color: "#ff2222" },
  { label: "Y", color: "#22c322" },
  { label: "Z", color: "#ffd400" },
  { label: "H", color: "#1a1aff" },
  { label: "F", color: "#111111" },
];
// baseline field values printed inside panel ж, with their left offsets
const BASE_VALUES = [
  { c: "X", v: "11268.4", x: 106 },
  { c: "Y", v: "  2347.2", x: 227 },
  { c: "Z", v: "51671.2", x: 348 },
  { c: "H", v: "11510.3", x: 469 },
  { c: "F", v: "52937.7", x: 590 },
];

export default function App() {
  return (
    <div style={{ position: "absolute", left: 0, top: 0, width: 1169, height: 1629, background: "#fff", overflow: "hidden" }}>
      <Panel
        top={14}
        h={152}
        domain={[0, 2]}
        majors={[0, 0.5, 1, 1.5, 2]}
        minors={Array.from({ length: 21 }, (_, k) => k / 10)}
        xMinor
        series={[{ name: "amp", pts: AMP_BLUE_PTS, color: BLUE }]}
        arrows={ARROWS_A}
      />
      <Panel
        top={218}
        h={136}
        domain={[-100, 400]}
        majors={[-100, 0, 100, 200, 300, 400]}
        series={[{ name: "phase", pts: PHASE_BLUE_PTS, color: BLUE }]}
        arrows={ARROWS_B}
      />
      <Panel
        top={403}
        h={153}
        domain={[0, 2]}
        majors={[0, 0.5, 1, 1.5, 2]}
        series={[{ name: "amp", pts: AMP_ORANGE_PTS, color: ORANGE }]}
        arrows={ARROWS_C}
      />
      <Panel
        top={600}
        h={136}
        domain={[-100, 400]}
        majors={[-100, 0, 100, 200, 300, 400]}
        series={[{ name: "phase", pts: PHASE_ORANGE_PTS, color: ORANGE }]}
        arrows={ARROWS_D}
      />
      <Panel
        top={785}
        h={160}
        domain={[-50, 150]}
        majors={[-50, 0, 50, 100, 150]}
        minors={Array.from({ length: 21 }, (_, k) => k * 10 - 50)}
        xMinor
        series={[
          { name: "hp", pts: HP_PTS, color: "#808080", width: 1.1 },
          { name: "he", pts: HE_PTS, color: ORANGE, width: 1.4 },
          { name: "hn", pts: HN_PTS, color: BLUE, width: 1.5 },
        ]}
      />
      <Panel
        top={991}
        h={177}
        log
        domain={[1, 1e6]}
        majors={[1, 1e2, 1e4, 1e6]}
        series={[
          { name: "e1b", pts: E1B_PTS, color: FLUX_LEGEND[0].color, width: 1.5 },
          { name: "e2b", pts: E2B_PTS, color: FLUX_LEGEND[1].color, width: 1.4 },
          { name: "e3b", pts: E3B_PTS, color: FLUX_LEGEND[2].color, width: 1.5 },
          { name: "p1b", pts: P1B_PTS, color: FLUX_LEGEND[3].color, width: 1.4 },
        ]}
      />
      <Panel
        top={1218}
        h={162}
        domain={[-800, 400]}
        majors={[-800, -600, -400, -200, 0, 200, 400]}
        series={[
          { name: "dx", pts: DX_PTS, color: DELTA_LEGEND[0].color, width: 1.4 },
          { name: "dy", pts: DY_PTS, color: DELTA_LEGEND[1].color, width: 1.3 },
          { name: "dz", pts: DZ_PTS, color: DELTA_LEGEND[2].color, width: 1.4 },
          { name: "dh", pts: DH_PTS, color: DELTA_LEGEND[3].color, width: 1.2 },
          { name: "df", pts: DF_PTS, color: DELTA_LEGEND[4].color, width: 1.4 },
        ]}
      />
      <Panel
        top={1429}
        h={162}
        domain={[10, 14]}
        majors={[10, 11, 12, 13, 14]}
        leftColor={BLUE}
        gridColor="#dde9f4"
        right={{ domain: [77, 79], majors: [77, 77.5, 78, 78.5, 79], color: ORANGE, fmt: (v) => v.toFixed(1) }}
        series={[
          { name: "decl", pts: DECL_PTS, color: BLUE, width: 1.1 },
          { name: "incl", pts: INCL_PTS, color: ORANGE, width: 1.1, axis: "r" },
        ]}
      />

      {PANEL_LETTERS.map(([s, y]) => (
        <div key={s} style={abs({ left: 10, top: y - 17, fontSize: 29, color: "#111", lineHeight: "34px" })}>
          {s}
        </div>
      ))}
      {UTC_Y.map((y) => (
        <div key={y} style={abs({ left: 609, top: y, transform: "translate(-50%, -50%)", fontSize: 15, fontWeight: 700, color: "#222" })}>
          UTC
        </div>
      ))}

      <VTitle x={62} y={90}>Амплитуда, пТл</VTitle>
      <VTitle x={63} y={286}>Фаза, град.</VTitle>
      <VTitle x={62} y={480}>Амплитуда, пТл</VTitle>
      <VTitle x={63} y={668}>Фаза, град.</VTitle>
      <VTitle x={64} y={865}>H, нТл</VTitle>
      <VTitle x={62} y={1092} color={BLUE}>
        Поток электронов, эл/(см<sup style={{ fontSize: 10 }}>2</sup>·с·ср)
      </VTitle>
      <VTitle x={1132} y={1070} color="#e8201e">
        Поток протонов,
        <br />
        прот/(см<sup style={{ fontSize: 10 }}>2</sup>·с·ср)
      </VTitle>
      <VTitle x={61} y={1299} bold={false} color="#333">
        ΔX,ΔY,ΔZ,ΔH,ΔF, <b style={{ color: BLUE }}>нТл</b>
      </VTitle>
      <VTitle x={63} y={1510} color={BLUE}>D, град.</VTitle>
      <VTitle x={1157} y={1510} color={ORANGE}>I, град.</VTitle>

      <div
        style={abs({
          left: 117,
          top: 908,
          height: 22,
          padding: "0 6px",
          border: "1px solid #666",
          background: "#fff",
          display: "flex",
          alignItems: "center",
          gap: 4,
          fontSize: 15,
          color: "#333",
        })}
      >
        {H_LEGEND.map((it) => (
          <span key={it.sub} style={{ display: "inline-flex", alignItems: "center", marginRight: 4 }}>
            <Sample color={it.color} w={36} sw={1.2} />
            <span>
              H<sub style={{ fontSize: 10 }}>{it.sub}</sub>
            </span>
          </span>
        ))}
      </div>

      <div
        style={abs({
          left: 104,
          top: 991,
          height: 18,
          padding: "0 3px",
          border: "1px solid #666",
          background: "#fff",
          display: "flex",
          alignItems: "center",
          fontSize: 13,
          color: "#333",
        })}
      >
        {FLUX_LEGEND.map((it) => (
          <span key={it.label} style={{ display: "inline-flex", alignItems: "center", marginRight: 6 }}>
            <Sample color={it.color} w={38} sw={1.4} />
            <span>{it.label}</span>
          </span>
        ))}
      </div>

      <div
        style={abs({
          left: 105,
          top: 1219,
          height: 18,
          padding: "0 3px",
          border: "1px solid #666",
          background: "#fff",
          display: "flex",
          alignItems: "center",
          fontSize: 15,
          color: "#222",
        })}
      >
        {DELTA_LEGEND.map((it) => (
          <span key={it.label} style={{ display: "inline-flex", alignItems: "center", marginRight: 2 }}>
            <Sample color={it.color} w={26} sw={2.2} />
            <span>{it.label}</span>
          </span>
        ))}
      </div>

      {BASE_VALUES.map((b, i) => (
        <div key={b.c} style={abs({ left: b.x, top: 1356, fontSize: 14.5, color: "#333", whiteSpace: "pre", lineHeight: "18px" })}>
          {b.c}
          <sub style={{ fontSize: 9.5 }}>0</sub>
          {` = ${b.v} nT${i < BASE_VALUES.length - 1 ? "," : ""}`}
        </div>
      ))}
    </div>
  );
}
